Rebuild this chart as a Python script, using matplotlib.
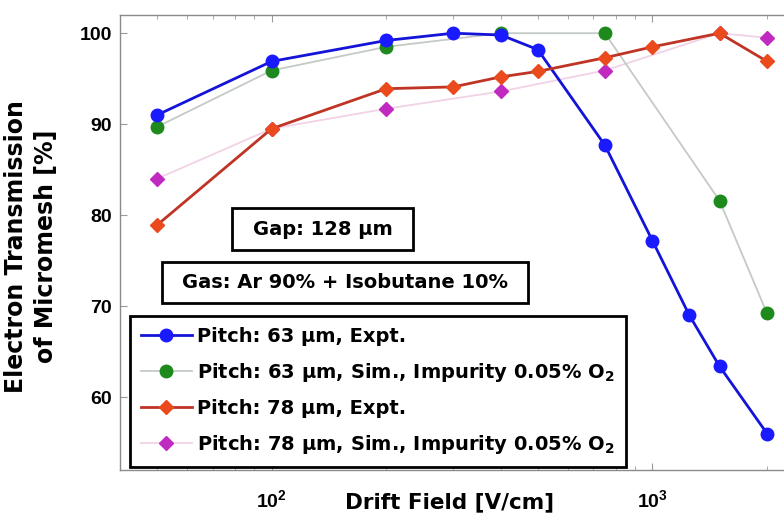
import matplotlib
matplotlib.use("Agg")
import matplotlib.pyplot as plt
from matplotlib.patches import Rectangle
from matplotlib.ticker import LogLocator, NullFormatter

plt.rcParams['font.family'] = ['DejaVu Sans']
plt.rcParams['mathtext.fontset'] = 'custom'
plt.rcParams['mathtext.rm'] = 'DejaVu Sans:bold'
plt.rcParams['mathtext.bf'] = 'DejaVu Sans:bold'
plt.rcParams['mathtext.default'] = 'bf'

# Drift field [V/cm] and transmission [%]
x_63_expt = [50, 100, 200, 300, 400, 500, 750, 1000, 1250, 1500, 2000]
y_63_expt = [91.0, 96.9, 99.2, 100.0, 99.8, 98.2, 87.7, 77.2, 69.0, 63.4, 56.0]

x_63_sim = [50, 100, 200, 400, 750, 1500, 2000]
y_63_sim = [89.7, 95.9, 98.5, 100.0, 100.0, 81.6, 69.2]

x_78_expt = [50, 100, 200, 300, 400, 500, 750, 1000, 1500, 2000]
y_78_expt = [78.9, 89.5, 93.9, 94.1, 95.2, 95.8, 97.3, 98.5, 100.0, 96.9]

x_78_sim = [50, 100, 200, 400, 750, 1500, 2000]
y_78_sim = [84.0, 89.5, 91.7, 93.6, 95.9, 100.0, 99.5]

labels = [
    "Pitch: 63 μm, Expt.",
    "Pitch: 63 μm, Sim., Impurity 0.05% O$_2$",
    "Pitch: 78 μm, Expt.",
    "Pitch: 78 μm, Sim., Impurity 0.05% O$_2$",
]

fig = plt.figure(figsize=(7.84, 5.22), dpi=100)
ax = fig.add_axes([120 / 784, 1 - 470 / 522, 684 / 784, 455 / 522])
ax.set_xscale('log')

ax.plot(x_63_expt, y_63_expt, color='#1414d8', lw=2.0, marker='o',
        ms=9, mfc='#1a1aff', mec='#1a1aff', label=labels[0], zorder=4)
ax.plot(x_63_sim, y_63_sim, color='#c4cac4', lw=1.3, marker='o',
        ms=9, mfc='#1e8a1e', mec='#1e8a1e', label=labels[1], zorder=3)
ax.plot(x_78_expt, y_78_expt, color='#bf3424', lw=2.0, marker='D',
        ms=7.5, mfc='#ea4a1c', mec='#ea4a1c', label=labels[2], zorder=4)
ax.plot(x_78_sim, y_78_sim, color='#f2d2e6', lw=1.3, marker='D',
        ms=7.5, mfc='#c02ac0', mec='#c02ac0', label=labels[3], zorder=2)

ax.set_xlim(40, 2500)
ax.set_ylim(52, 102)
ax.set_yticks([60, 70, 80, 90, 100])
ax.xaxis.set_major_locator(LogLocator(base=10, numticks=10))
ax.xaxis.set_minor_locator(LogLocator(base=10, subs=range(2, 10), numticks=20))
ax.xaxis.set_minor_formatter(NullFormatter())

for s in ax.spines.values():
    s.set_color('#8a8a8a')
    s.set_linewidth(1.0)
ax.tick_params(which='both', direction='in', color='#9a9a9a', top=True, right=True)
ax.tick_params(which='major', length=5)
ax.tick_params(which='minor', length=3)
ax.tick_params(axis='y', pad=6)
ax.tick_params(axis='x', pad=14)
for t in ax.get_yticklabels() + ax.get_xticklabels():
    t.set_fontfamily('Liberation Sans')
    t.set_fontweight('bold')
    t.set_fontsize(14)

ax.set_xlabel("Drift Field [V/cm]", fontsize=15.5, fontweight='bold')
ax.xaxis.set_label_coords(0.482, -0.050)
ax.set_ylabel("Electron Transmission\nof Micromesh [%]", fontsize=17,
              fontweight='bold', linespacing=1.35)
ax.yaxis.set_label_coords(-0.130, 0.492)
ax.yaxis.label.set_va('center')

# annotation boxes: (x0, y0, width, height) in axes fraction
gap_box = (0.1637, 0.4835, 0.2646, 0.0923)
gas_box = (0.0614, 0.367, 0.535, 0.090)
for (bx, by, bw, bh), txt in [(gap_box, "Gap: 128 μm"),
                              (gas_box, "Gas: Ar 90% + Isobutane 10%")]:
    ax.add_patch(Rectangle((bx, by), bw, bh, transform=ax.transAxes,
                           facecolor='white', edgecolor='black', lw=2, zorder=6))
    ax.text(bx + bw / 2, by + bh / 2, txt, transform=ax.transAxes, ha='center',
            va='center', fontsize=14, fontweight='bold', zorder=7)

leg = ax.legend(loc='lower left', bbox_to_anchor=(0.015, 0.007), borderaxespad=0,
                fancybox=False, framealpha=1, edgecolor='black',
                prop={'size': 14, 'weight': 'bold'}, handlelength=2.6,
                handletextpad=0.3, labelspacing=0.78, borderpad=0.55)
leg.get_frame().set_linewidth(2)
leg.set_zorder(8)

fig.savefig("out.png", dpi=100)
